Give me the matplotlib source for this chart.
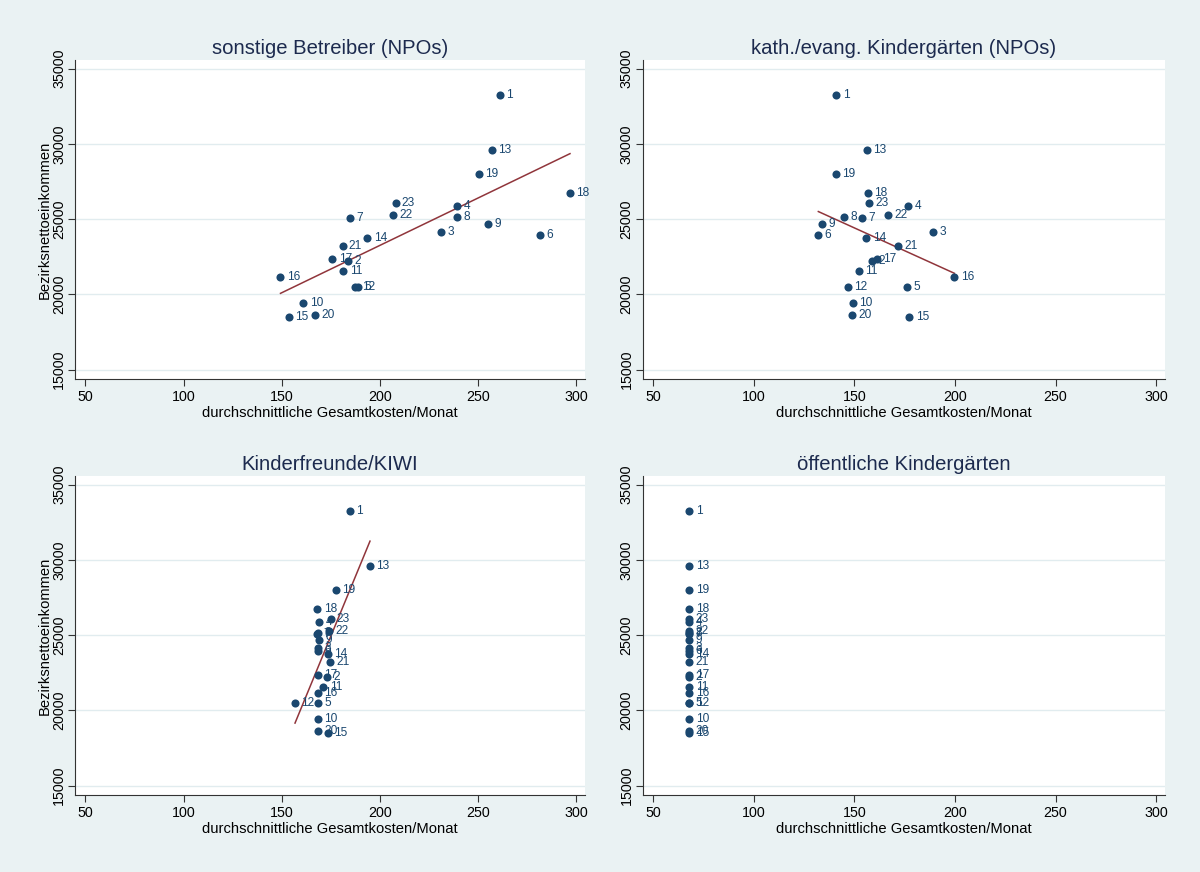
import numpy as np
import matplotlib
matplotlib.use("Agg")
import matplotlib.pyplot as plt

plt.rcParams['font.family'] = ['Liberation Sans', 'DejaVu Sans']

districts = list(range(1, 24))
income = [33250, 22212, 24137, 25862, 20467, 23938, 25086, 25112, 24688, 19445,
          21569, 20507, 29559, 23739, 18496, 21151, 22365, 26745, 27986, 18629,
          23208, 25285, 26041]

cost_sonstige = [261.3, 183.8, 231.3, 239.3, 188.8, 281.5, 184.6, 239.3, 255.0, 161.0,
                 181.4, 187.6, 257.1, 193.7, 153.7, 149.4, 175.8, 296.9, 250.6, 167.0,
                 181.0, 206.9, 208.0]
cost_kath = [141.0, 158.8, 189.3, 176.6, 176.1, 132.1, 154.0, 144.8, 134.1, 149.3,
             152.2, 146.8, 156.3, 156.0, 177.3, 199.7, 161.3, 156.8, 140.8, 148.9,
             171.7, 166.7, 157.2]
cost_kiwi = [184.6, 173.2, 168.7, 169.1, 168.5, 168.7, 168.0, 168.5, 169.1, 168.5,
             171.3, 156.8, 195.0, 173.4, 173.4, 168.5, 168.3, 168.1, 177.5, 168.5,
             174.4, 173.9, 174.9]
cost_oeff = [68.0] * 23

titles = ["sonstige Betreiber (NPOs)", "kath./evang. Kindergärten (NPOs)",
          "Kinderfreunde/KIWI", "öffentliche Kindergärten"]
xlabel = "durchschnittliche Gesamtkosten/Monat"
ylabel = "Bezirksnettoeinkommen"
xticks = [50, 100, 150, 200, 250, 300]
yticks = [15000, 20000, 25000, 30000, 35000]

BG = '#eaf2f3'
NAVY = '#1a476f'
MAROON = '#90353b'
TITLE_C = '#1c2a4e'

W, H = 1200, 872
fig = plt.figure(figsize=(W / 100, H / 100), dpi=100, facecolor=BG)

# pixel boxes: (left, right, top, bottom)
boxes = [(75.2, 585.1, 60, 379), (642.7, 1165.4, 60, 379),
         (75.2, 585.1, 476, 795), (642.7, 1165.4, 476, 795)]
costs = [cost_sonstige, cost_kath, cost_kiwi, cost_oeff]
fits = [True, True, True, False]

for i, (box, c, t, fit) in enumerate(zip(boxes, costs, titles, fits)):
    l, r, tp, b = box
    ax = fig.add_axes([l / W, 1 - b / H, (r - l) / W, (b - tp) / H])
    ax.set_facecolor('white')
    x = np.array(c)
    y = np.array(income)
    ax.scatter(x, y, s=34, color=NAVY, zorder=3, linewidths=0)
    for d, xi, yi in zip(districts, x, y):
        ax.annotate(str(d), (xi, yi), xytext=(4.6, 0), textcoords='offset points',
                    va='center', ha='left', fontsize=8.6, color=NAVY, zorder=4)
    if fit:
        k, m = np.polyfit(x, y, 1)
        xs = np.array([x.min(), x.max()])
        ax.plot(xs, k * xs + m, color=MAROON, lw=1.1, zorder=2)
    ax.set_xlim(44.8, 304.6)
    ax.set_ylim(14370, 35570)
    ax.set_xticks(xticks)
    ax.set_yticks(yticks)
    ax.set_yticklabels([str(v) for v in yticks], rotation=90, va='center')
    ax.tick_params(axis='x', length=5, width=0.8, color='#333333',
                   labelsize=10.3, labelcolor='black', pad=3)
    ax.tick_params(axis='y', length=5, width=0.8, color='#333333',
                   labelsize=10.3, labelcolor='black', pad=1.5)
    ax.yaxis.grid(True, color='#e1ecef', lw=1.0, zorder=0)
    ax.set_axisbelow(True)
    for s in ['top', 'right']:
        ax.spines[s].set_visible(False)
    for s in ['left', 'bottom']:
        ax.spines[s].set_color('#333333')
        ax.spines[s].set_linewidth(0.8)
    ax.set_xlabel(xlabel, fontsize=10.6, labelpad=1.5)
    if i % 2 == 0:
        ax.set_ylabel(ylabel, fontsize=10.6, labelpad=0)
    ax.set_title(t, fontsize=14.6, color=TITLE_C, pad=4)

fig.savefig('out.png', dpi=100, facecolor=BG)
